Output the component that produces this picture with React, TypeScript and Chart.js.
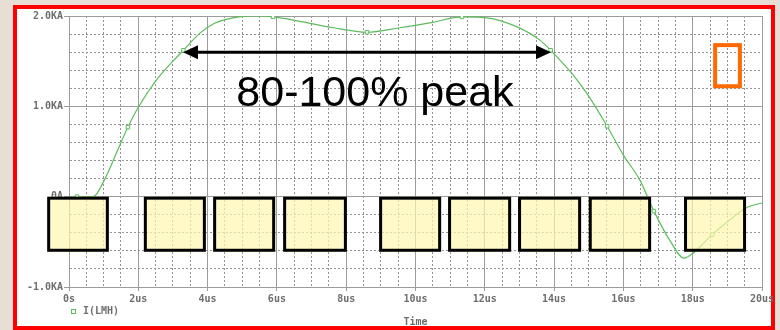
import React, { useEffect, useRef } from 'react';
import { Chart, registerables } from 'chart.js';

Chart.register(...registerables);

// ---- data ----
const timeUs = [0, 0.23, 0.7, 1.04, 1.4, 1.7, 2.0, 2.5, 3.0, 3.3, 3.78, 4.2, 4.73, 5.3, 5.89, 6.67, 7.62, 8.6, 9.55, 10.5, 11.34, 12.06, 12.93, 13.6, 13.9, 14.5, 14.95, 15.53, 16.0, 16.48, 16.88, 17.35, 17.75, 18.0, 18.56, 19.16, 19.56, 20];
const currentKA = [0, 0, 0, 0.2, 0.51, 0.77, 0.99, 1.28, 1.5, 1.62, 1.81, 1.92, 1.98, 2.0, 1.99, 1.94, 1.87, 1.82, 1.87, 1.93, 1.99, 1.98, 1.88, 1.73, 1.62, 1.37, 1.14, 0.78, 0.46, 0.18, -0.16, -0.49, -0.68, -0.63, -0.42, -0.23, -0.12, -0.07];
const markerTimes = [0.23, 1.7, 3.3, 5.89, 8.6, 11.34, 13.9, 15.53, 16.88, 18.56];

const xTickLabels = ['0s', '2us', '4us', '6us', '8us', '10us', '12us', '14us', '16us', '18us', '20us'];
const yTickLabels = ['-1.0KA', '0A', '1.0KA', '2.0KA'];
const seriesName = 'I(LMH)';
const axisTitle = 'Time';

// annotation boxes (time ranges in us, current range in KA)
const boxStartUs = [-0.63, 2.16, 4.16, 6.18, 8.95, 10.94, 12.96, 15.0, 17.75];
const boxEndUs = [1.15, 3.95, 5.95, 8.02, 10.74, 12.76, 14.78, 16.8, 19.54];
const boxTopKA = 0;
const boxBottomKA = -0.61;

const arrowFromUs = 3.29;
const arrowToUs = 13.91;
const arrowLevelKA = 1.6;
const peakLabel = '80-100% peak';
const peakLabelUs = 8.83;
const peakLabelKA = 1.0;

const orangeFromUs = 18.59;
const orangeToUs = 19.42;
const orangeTopKA = 1.7;
const orangeBottomKA = 1.2;

const GREEN = '#5cbc5c';
const MAJOR = '#9c9c9c';
const MINOR = '#939393';
const LABEL = '#6e6e6e';
const monoFont = { family: '"DejaVu Sans Mono", monospace', size: 10, weight: 'bold' as const };

const isMajorX = (v: number) => Math.abs(v / 2 - Math.round(v / 2)) < 1e-6;
const isMajorY = (v: number) => Math.abs(v - Math.round(v)) < 1e-6;

const overlay = {
  id: 'overlay',
  afterDraw(chart: any) {
    const { ctx, scales, chartArea } = chart;
    const x = scales.x;
    const y = scales.y;
    ctx.save();

    // translucent yellow boxes
    const t = y.getPixelForValue(boxTopKA);
    const b = y.getPixelForValue(boxBottomKA);
    boxStartUs.forEach((s, i) => {
      const l = x.getPixelForValue(s);
      const r = x.getPixelForValue(boxEndUs[i]);
      ctx.fillStyle = 'rgba(255,246,175,0.7)';
      ctx.fillRect(l, t, r - l, b - t);
      ctx.lineWidth = 3;
      ctx.strokeStyle = '#000';
      ctx.strokeRect(l + 1.5, t + 1.5, r - l - 3, b - t - 3);
    });

    // double-headed arrow
    const ax1 = x.getPixelForValue(arrowFromUs);
    const ax2 = x.getPixelForValue(arrowToUs);
    const ay = y.getPixelForValue(arrowLevelKA);
    const hl = 15, hh = 7;
    ctx.strokeStyle = '#000';
    ctx.lineWidth = 3;
    ctx.beginPath();
    ctx.moveTo(ax1 + hl - 2, ay);
    ctx.lineTo(ax2 - hl + 2, ay);
    ctx.stroke();
    ctx.fillStyle = '#000';
    ctx.beginPath();
    ctx.moveTo(ax1, ay);
    ctx.lineTo(ax1 + hl, ay - hh);
    ctx.lineTo(ax1 + hl, ay + hh);
    ctx.closePath();
    ctx.fill();
    ctx.beginPath();
    ctx.moveTo(ax2, ay);
    ctx.lineTo(ax2 - hl, ay - hh);
    ctx.lineTo(ax2 - hl, ay + hh);
    ctx.closePath();
    ctx.fill();

    // big label
    ctx.font = '43px "Liberation Sans", Arial, sans-serif';
    ctx.textAlign = 'center';
    ctx.textBaseline = 'alphabetic';
    ctx.fillStyle = '#000';
    ctx.fillText(peakLabel, x.getPixelForValue(peakLabelUs), y.getPixelForValue(peakLabelKA));

    // orange rectangle
    const ol = x.getPixelForValue(orangeFromUs);
    const or = x.getPixelForValue(orangeToUs);
    const ot = y.getPixelForValue(orangeTopKA);
    const ob = y.getPixelForValue(orangeBottomKA);
    ctx.strokeStyle = '#ff6a00';
    ctx.lineWidth = 4;
    ctx.strokeRect(ol + 2, ot + 2, or - ol - 4, ob - ot - 4);

    // legend
    const lx = chartArea.left + 4;
    const ly = chartArea.bottom + 24;
    ctx.strokeStyle = GREEN;
    ctx.fillStyle = '#fff';
    ctx.lineWidth = 1;
    ctx.fillRect(lx - 2, ly - 2, 4, 4);
    ctx.strokeRect(lx - 2 + 0.5, ly - 2 + 0.5, 4, 4);
    ctx.font = 'bold 10px "DejaVu Sans Mono", monospace';
    ctx.textAlign = 'left';
    ctx.textBaseline = 'middle';
    ctx.fillStyle = LABEL;
    ctx.fillText(seriesName, lx + 10, ly);

    ctx.restore();
  },
};

export default function App() {
  const ref = useRef<HTMLCanvasElement | null>(null);

  useEffect(() => {
    if (!ref.current) return;
    const chart = new Chart(ref.current, {
      type: 'line',
      data: {
        datasets: [
          {
            label: seriesName,
            data: timeUs.map((t, i) => ({ x: t, y: currentKA[i] })),
            borderColor: GREEN,
            borderWidth: 1.2,
            cubicInterpolationMode: 'monotone',
            pointStyle: 'rect',
            pointRadius: timeUs.map((t) => (markerTimes.includes(t) ? 2.5 : 0)),
            pointBackgroundColor: '#ffffff',
            pointBorderColor: GREEN,
            pointBorderWidth: 1,
            fill: false,
          },
        ],
      },
      options: {
        animation: false,
        responsive: false,
        devicePixelRatio: 1,
        layout: { padding: { left: 13, right: 18, top: 16, bottom: 0 } },
        plugins: { legend: { display: false }, tooltip: { enabled: false } },
        events: [],
        scales: {
          x: {
            type: 'linear',
            min: 0,
            max: 20,
            afterFit: (s: any) => {
              s.height = 43;
            },
            ticks: {
              stepSize: 0.5,
              autoSkip: false,
              maxRotation: 0,
              padding: 2,
              color: LABEL,
              font: monoFont,
              callback: (v: any) => (isMajorX(Number(v)) ? xTickLabels[Math.round(Number(v) / 2)] : ''),
            },
            grid: {
              color: (c: any) => (c.tick && !isMajorX(c.tick.value) ? MINOR : MAJOR),
              lineWidth: 1,
              tickLength: 4,
              tickColor: (c: any) => (c.tick && !isMajorX(c.tick.value) ? 'rgba(0,0,0,0)' : MAJOR),
            },
            border: {
              display: true,
              color: MAJOR,
              dash: (c: any) => (c.tick && !isMajorX(c.tick.value) ? [2, 2] : []),
            },
            title: {
              display: true,
              text: axisTitle,
              color: LABEL,
              font: monoFont,
              padding: { top: 0, bottom: 2 },
            },
          },
          y: {
            type: 'linear',
            min: -1,
            max: 2,
            afterFit: (s: any) => {
              s.width = 56;
            },
            ticks: {
              stepSize: 0.2,
              autoSkip: false,
              padding: 1,
              color: LABEL,
              font: monoFont,
              callback: (v: any) => (isMajorY(Number(v)) ? yTickLabels[Math.round(Number(v)) + 1] : ''),
            },
            grid: {
              color: (c: any) => (c.tick && !isMajorY(c.tick.value) ? MINOR : MAJOR),
              lineWidth: 1,
              tickLength: 5,
              tickColor: (c: any) => (c.tick && !isMajorY(c.tick.value) ? 'rgba(0,0,0,0)' : MAJOR),
            },
            border: {
              display: true,
              color: MAJOR,
              dash: (c: any) => (c.tick && !isMajorY(c.tick.value) ? [2, 2] : []),
            },
          },
        },
      },
      plugins: [overlay],
    } as any);
    return () => chart.destroy();
  }, []);

  return (
    <div style={{ position: 'absolute', left: 0, top: 0, width: 780, height: 330, background: '#e7dfd6', overflow: 'hidden' }}>
      <div
        style={{
          position: 'absolute',
          left: 13,
          top: 5,
          width: 762,
          height: 325,
          boxSizing: 'border-box',
          border: '4px solid #ff0000',
          background: '#ffffff',
        }}
      />
      <canvas ref={ref} width={780} height={330} style={{ position: 'absolute', left: 0, top: 0, width: 780, height: 330 }} />
    </div>
  );
}
